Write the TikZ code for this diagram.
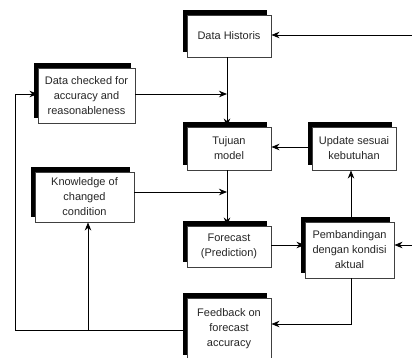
\documentclass[tikz,border=0pt]{standalone}
\usepackage{fontspec}
\setmainfont{Liberation Sans}
\usetikzlibrary{arrows.meta,shadows}
\begin{document}
\begin{tikzpicture}[x=1pt,y=-1pt,
  box/.style={draw=black!75, line width=0.9pt, fill=white, align=center,
    inner sep=1pt, font=\fontsize{11}{15}\selectfont, text=black!85,
    drop shadow={shadow xshift=-4.5pt, shadow yshift=5pt, fill=black, opacity=1}},
  conn/.style={draw=black, line width=0.9pt},
  arr/.style={conn, -{Stealth[length=8pt,width=6.5pt,inset=2.5pt]}}]
\useasboundingbox (0,0) rectangle (412,357);
\clip (0,0) rectangle (412,357);
\fill[white] (0,0) rectangle (412,357);
\node[box, minimum width=84pt, minimum height=42pt] (dh) at (229,36) {Data Historis};
\node[box, minimum width=97pt, minimum height=55pt] (dc) at (86.5,95.5) {Data checked for\\accuracy and\\reasonableness};
\node[box, minimum width=84pt, minimum height=43pt] (tm) at (229,148.5) {Tujuan\\model};
\node[box, minimum width=84pt, minimum height=43pt] (um) at (354,148.5) {Update sesuai\\kebutuhan};
\node[box, minimum width=99pt, minimum height=50pt] (kc) at (84.5,197) {Knowledge of\\changed\\condition};
\node[box, minimum width=84pt, minimum height=41pt] (fc) at (229,246.5) {Forecast\\(Prediction)};
\node[box, minimum width=89pt, minimum height=56pt] (pb) at (349.5,250) {Pembandingan\\dengan kondisi\\aktual};
\node[box, minimum width=84pt, minimum height=62pt] (fb) at (229,329) {Feedback on\\forecast\\accuracy};
\coordinate (in1) at (413,35);
\coordinate (in2) at (413,245);
\coordinate (j1) at (227,94);
\coordinate (j2) at (227,192);
\coordinate (c1) at (351,324);
\coordinate (c2) at (15,330);
\coordinate (c3) at (88,330);
\coordinate (c4) at (15,94);
\draw[arr] (in1) -- (in1 -| dh.east);
\draw[arr] (j1 |- dh.south) -- (j1 |- tm.north);
\draw[arr] (dc.east |- j1) -- (j1);
\draw[arr] (um.west |- 0,147) -- (tm.east |- 0,147);
\draw[arr] (kc.east |- j2) -- (j2);
\draw[arr] (j2 |- tm.south) -- (j2 |- fc.north);
\draw[arr] (fc.east |- in2) -- (pb.west |- in2);
\draw[arr] (in2) -- (in2 -| pb.east);
\draw[arr] (c1 |- pb.north) -- (c1 |- um.south);
\draw[arr] (c1 |- pb.south) -- (c1) -- (fb.east |- c1);
\draw[arr] (fb.west |- c2) -- (c2) -- (c4) -- (dc.west |- c4);
\draw[arr] (c3) -- (c3 |- kc.south);
\end{tikzpicture}
\end{document}
